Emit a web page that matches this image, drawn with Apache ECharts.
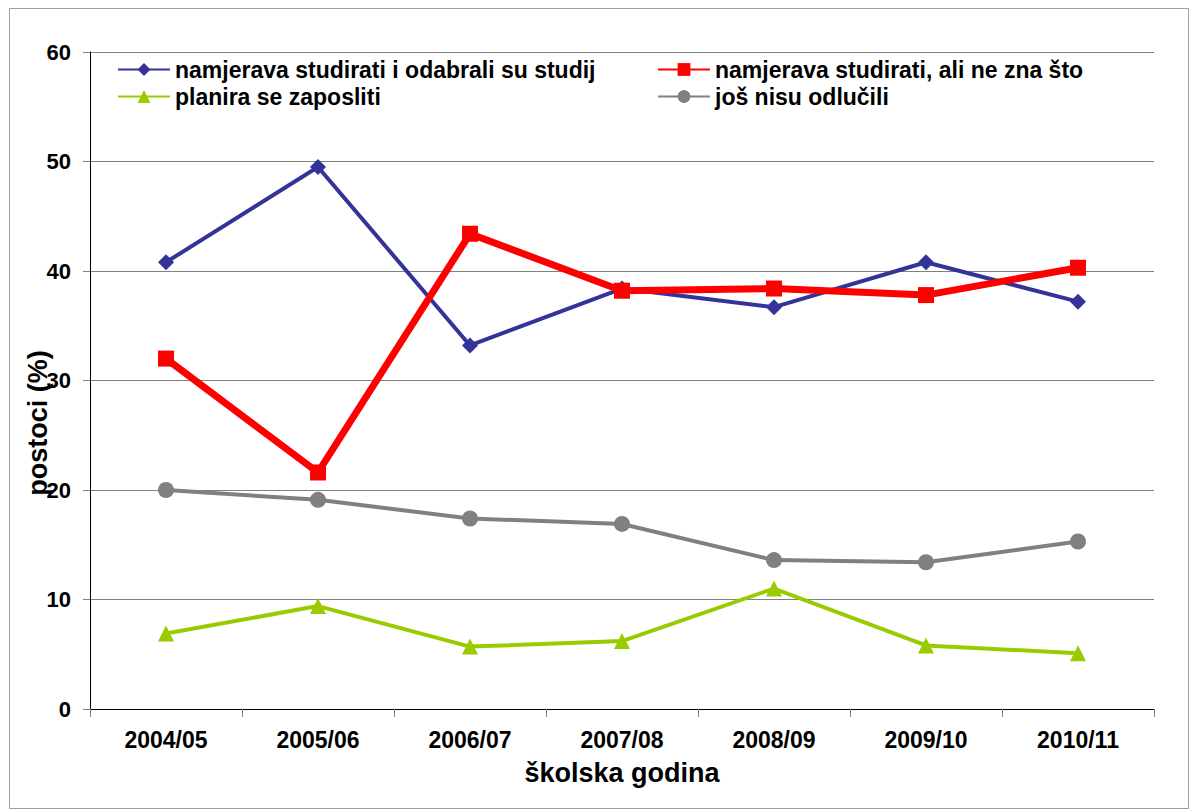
<!DOCTYPE html>
<html>
<head>
<meta charset="utf-8">
<script src="https://cdn.jsdelivr.net/npm/echarts@6/dist/echarts.min.js"></script>
<style>
  html, body { margin: 0; padding: 0; background: #fff; }
  #chart { width: 1197px; height: 810px; }
</style>
</head>
<body>
<div id="chart"></div>
<script>
const godine = ["2004/05", "2005/06", "2006/07", "2007/08", "2008/09", "2009/10", "2010/11"];
const odabraliStudij = [40.8, 49.5, 33.2, 38.4, 36.7, 40.8, 37.2];
const neZnaSto = [32.0, 21.6, 43.4, 38.2, 38.4, 37.8, 40.3];
const zaposliti = [6.9, 9.4, 5.7, 6.2, 11.0, 5.8, 5.1];
const nisuOdlucili = [20.0, 19.1, 17.4, 16.9, 13.6, 13.4, 15.3];

const font = "Liberation Sans, Arial, sans-serif";
const chart = echarts.init(document.getElementById("chart"), null, { renderer: "svg" });

const legendText = { color: "#000", fontSize: 23, fontWeight: "bold", fontFamily: font };

chart.setOption({
  animation: false,
  textStyle: { fontFamily: font },
  graphic: [
    {
      type: "rect",
      shape: { x: 9.5, y: 8.5, width: 1179, height: 800 },
      style: { fill: "none", stroke: "#a0a0a0", lineWidth: 1 }
    },
    {
      // y axis title sits a bit below the plot middle in the original
      type: "text",
      x: 38, y: 423,
      rotation: Math.PI / 2,
      style: {
        text: "postoci (%)",
        font: "bold 27px " + font,
        fill: "#000",
        textAlign: "center",
        textVerticalAlign: "middle"
      }
    }
  ],
  legend: [
    {
      data: ["namjerava studirati i odabrali su studij", "planira se zaposliti"],
      orient: "vertical", left: 112, top: 53, itemGap: 4,
      itemWidth: 52, itemHeight: 16, textStyle: legendText
    },
    {
      data: ["namjerava studirati, ali ne zna što", "još nisu odlučili"],
      orient: "vertical", left: 652, top: 53, itemGap: 4,
      itemWidth: 52, itemHeight: 16, textStyle: legendText
    }
  ],
  grid: { left: 90, right: 43, top: 52, bottom: 101 },
  xAxis: {
    type: "category",
    data: godine,
    boundaryGap: true,
    name: "školska godina",
    nameLocation: "middle",
    nameGap: 50,
    nameTextStyle: { color: "#000", fontSize: 27, fontWeight: "bold" },
    axisLine: { lineStyle: { color: "#000", width: 1 } },
    axisTick: { show: true, length: 8, lineStyle: { color: "#808080" } },
    axisLabel: { color: "#000", fontSize: 23, fontWeight: "bold", margin: 19 }
  },
  yAxis: {
    type: "value",
    min: 0, max: 60, interval: 10,
    axisLine: { show: true, lineStyle: { color: "#000", width: 1 } },
    axisTick: { show: true, length: 7, lineStyle: { color: "#808080" } },
    axisLabel: { color: "#000", fontSize: 22, fontWeight: "bold", margin: 19 },
    splitLine: { lineStyle: { color: "#808080", width: 1 } }
  },
  series: [
    {
      name: "namjerava studirati i odabrali su studij",
      type: "line", data: odabraliStudij,
      symbol: "diamond", symbolSize: 16,
      lineStyle: { color: "#333399", width: 4 },
      itemStyle: { color: "#333399" }
    },
    {
      name: "namjerava studirati, ali ne zna što",
      type: "line", data: neZnaSto,
      symbol: "rect", symbolSize: 16,
      lineStyle: { color: "#ff0000", width: 7 },
      itemStyle: { color: "#ff0000" }
    },
    {
      name: "planira se zaposliti",
      type: "line", data: zaposliti,
      symbol: "triangle", symbolSize: 16,
      lineStyle: { color: "#99cc00", width: 4 },
      itemStyle: { color: "#99cc00" }
    },
    {
      name: "još nisu odlučili",
      type: "line", data: nisuOdlucili,
      symbol: "circle", symbolSize: 16,
      lineStyle: { color: "#808080", width: 4 },
      itemStyle: { color: "#808080" }
    }
  ]
});
</script>
</body>
</html>
